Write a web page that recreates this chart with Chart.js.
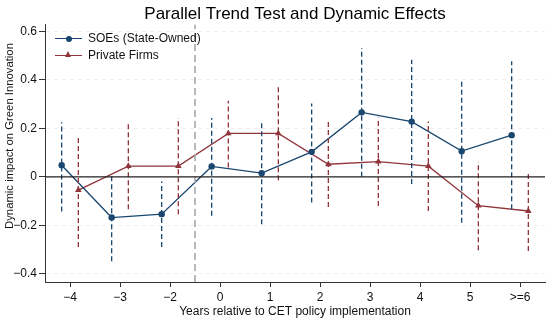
<!DOCTYPE html>
<html>
<head>
<meta charset="utf-8">
<script src="https://cdn.jsdelivr.net/npm/chart.js@4.4.1/dist/chart.umd.min.js"></script>
<style>
  body { margin: 0; background: #fff; }
  #wrap { position: relative; width: 550px; height: 322px; }
  #legend { position: absolute; left: 55px; top: 31px; font: 12px "Liberation Sans", Arial, sans-serif; color: #111; }
  .item { position: relative; height: 16.5px; line-height: 15px; padding-left: 33px; white-space: nowrap; }
  .line { position: absolute; left: 0; top: 7px; width: 27px; height: 0; border-top: 1.3px solid; }
  .dot { position: absolute; left: 10.5px; top: 4.5px; width: 6px; height: 6px; border-radius: 50%; }
  .tri { position: absolute; left: 10px; top: 3.5px; width: 0; height: 0; border-left: 3.5px solid transparent; border-right: 3.5px solid transparent; border-bottom: 6px solid; }
</style>
</head>
<body>
<div id="wrap">
  <canvas id="trendChart"></canvas>
  <div id="legend">
    <div class="item"><span class="line" style="border-color:#1a476f"></span><span class="dot" style="background:#1a476f"></span>SOEs (State-Owned)</div>
    <div class="item"><span class="line" style="border-color:#90353b"></span><span class="tri" style="border-bottom-color:#90353b"></span>Private Firms</div>
  </div>
</div>
<script>
// event-time categories (period -1 is the omitted base year)
const periodLabels = ['\u22124', '\u22123', '\u22122', '0', '1', '2', '3', '4', '5', '>=6'];

// SOEs: coefficient and 95% CI
const soeCoef = [0.048, -0.168, -0.154, 0.043, 0.015, 0.103, 0.266, 0.228, 0.106, 0.172];
const soeLow  = [-0.143, -0.348, -0.290, -0.161, -0.196, -0.106, 0.000, -0.030, -0.189, -0.134];
const soeHigh = [0.225, 0.010, -0.019, 0.243, 0.232, 0.303, 0.532, 0.483, 0.397, 0.477];

// Private firms: coefficient and 95% CI
const privCoef = [-0.055, 0.044, 0.044, 0.179, 0.179, 0.052, 0.063, 0.044, -0.119, -0.141];
const privLow  = [-0.290, -0.134, -0.154, 0.039, -0.014, -0.124, -0.120, -0.141, -0.303, -0.306];
const privHigh = [0.165, 0.220, 0.243, 0.314, 0.372, 0.228, 0.245, 0.228, 0.061, 0.018];

const yTicks = [-0.4, -0.2, 0, 0.2, 0.4, 0.6];
const yTickLabels = ['\u22120.4', '\u22120.2', '0', '0.2', '0.4', '0.6'];
const yMin = -0.434;
const yMax = 0.629;
const policyAt = 3.5; // between -2 and 0

const NAVY = '#1a476f';
const MAROON = '#90353b';
const FONT = '"Liberation Sans", Arial, sans-serif';
const shift = 1 / 6;

const pos = (i) => i + 1;

function pointsOf(values, dx) {
  return values.map((v, i) => ({ x: pos(i) + dx, y: v }));
}

// each CI becomes a separate segment, split by null gaps
function ciSegments(low, high, dx) {
  const out = [];
  low.forEach((lo, i) => {
    out.push({ x: pos(i) + dx, y: lo });
    out.push({ x: pos(i) + dx, y: high[i] });
    out.push({ x: pos(i) + dx, y: null });
  });
  return out;
}

const trend_data = {
  datasets: [
    {
      label: 'zero',
      data: [{ x: 0.5, y: 0 }, { x: periodLabels.length + 0.5, y: 0 }],
      borderColor: '#222',
      borderWidth: 1.2,
      pointRadius: 0
    },
    {
      label: 'policy',
      data: [{ x: policyAt, y: yMin }, { x: policyAt, y: yMax }],
      borderColor: '#a8a8a8',
      borderWidth: 1.6,
      borderDash: [7, 4],
      pointRadius: 0
    },
    {
      label: 'SOE CI',
      data: ciSegments(soeLow, soeHigh, -shift),
      borderColor: NAVY,
      borderWidth: 1.3,
      borderDash: [5, 3],
      pointRadius: 0,
      spanGaps: false
    },
    {
      label: 'Private CI',
      data: ciSegments(privLow, privHigh, shift),
      borderColor: MAROON,
      borderWidth: 1.3,
      borderDash: [5, 3],
      pointRadius: 0,
      spanGaps: false
    },
    {
      label: 'SOEs (State-Owned)',
      data: pointsOf(soeCoef, -shift),
      borderColor: NAVY,
      backgroundColor: NAVY,
      borderWidth: 1.3,
      pointStyle: 'circle',
      pointRadius: 3.2,
      pointBorderWidth: 0
    },
    {
      label: 'Private Firms',
      data: pointsOf(privCoef, shift),
      borderColor: MAROON,
      backgroundColor: MAROON,
      borderWidth: 1.3,
      pointStyle: 'triangle',
      pointRadius: 3.8,
      pointBorderWidth: 0
    }
  ]
};

// y title sits a bit above the middle of the axis, as in the original
const yTitlePlugin = {
  id: 'yTitle',
  afterDraw: (chart, args, options) => {
    const ctx = chart.ctx;
    ctx.save();
    ctx.translate(options.x, options.y);
    ctx.rotate(-Math.PI / 2);
    ctx.font = `${options.size}px ${FONT}`;
    ctx.fillStyle = '#111';
    ctx.textAlign = 'center';
    ctx.textBaseline = 'middle';
    ctx.fillText(options.text, 0, 0);
    ctx.restore();
  }
};

const trend_config = {
  type: 'line',
  data: trend_data,
  options: {
    responsive: true,
    maintainAspectRatio: false,
    animation: false,
    layout: { padding: { left: 0, right: 5, top: 0, bottom: 0 } },
    scales: {
      x: {
        type: 'linear',
        min: 0.5,
        max: periodLabels.length + 0.5,
        afterBuildTicks: (scale) => {
          scale.ticks = periodLabels.map((l, i) => ({ value: pos(i) }));
        },
        afterFit: (scale) => { scale.height = 40; },
        ticks: {
          autoSkip: false,
          maxRotation: 0,
          padding: 3,
          color: '#111',
          font: { family: FONT, size: 12 },
          callback: (value) => periodLabels[Math.round(value) - 1]
        },
        grid: { drawOnChartArea: false, tickLength: 5, tickColor: '#333', tickWidth: 1 },
        border: { color: '#333', width: 1 },
        title: {
          display: true,
          text: 'Years relative to CET policy implementation',
          color: '#111',
          font: { family: FONT, size: 12 },
          padding: { top: 0, bottom: 3 }
        }
      },
      y: {
        min: yMin,
        max: yMax,
        afterBuildTicks: (scale) => {
          scale.ticks = yTicks.map(v => ({ value: v }));
        },
        afterFit: (scale) => { scale.width = 45; },
        ticks: {
          padding: 2,
          color: '#111',
          font: { family: FONT, size: 12 },
          callback: (value) => yTickLabels[yTicks.findIndex(t => Math.abs(t - value) < 1e-6)]
        },
        grid: {
          color: 'rgba(0,0,0,0.06)',
          tickColor: '#333',
          tickLength: 6,
          tickWidth: 1
        },
        border: { color: '#333', width: 1, dash: [4, 4] },
        title: { display: false }
      }
    },
    plugins: {
      legend: { display: false },
      tooltip: { enabled: false },
      title: {
        display: true,
        text: 'Parallel Trend Test and Dynamic Effects',
        fullSize: false,
        color: '#000',
        font: { family: FONT, size: 17, weight: 'normal' },
        padding: { top: 4, bottom: 0 }
      },
      yTitle: { text: 'Dynamic impact on Green Innovation', x: 10, y: 136, size: 11.3 }
    }
  },
  plugins: [yTitlePlugin]
};

const myTrendChart = new Chart(document.getElementById('trendChart'), trend_config);
</script>
</body>
</html>
